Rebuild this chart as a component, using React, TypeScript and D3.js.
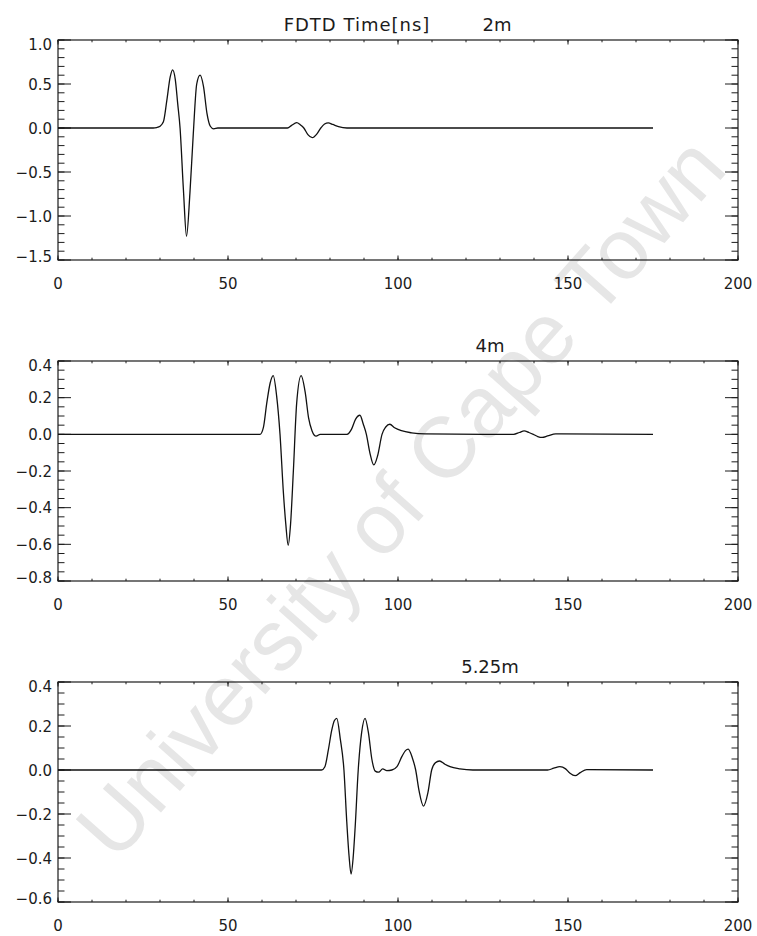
import React from 'react';
import * as d3 from 'd3';

// ---------- data ----------
const xTicks = [0, 50, 100, 150, 200];

const time1 = [0, 28, 29, 30, 31, 32, 33, 33.7, 34.5, 35.2, 35.9, 36.9, 37.8, 38.8, 39.8, 40.8, 41.8, 42.8, 43.8, 44.8, 45.8, 47,
  67.5, 68.7, 70.2, 71.3, 72.3, 73.5, 74.8, 76.1, 77.3, 78.4, 79.5, 80.8, 82.5, 85, 175];
const amp1 = [0, 0, 0.005, 0.02, 0.07, 0.31, 0.58, 0.66, 0.55, 0.28, 0, -0.71, -1.23, -0.74, -0.06, 0.5, 0.6, 0.47, 0.17, 0.02, -0.01, 0,
  0, 0.03, 0.06, 0.035, 0, -0.075, -0.11, -0.07, 0, 0.045, 0.058, 0.04, 0.015, 0, 0];

const time2 = [0, 59.4, 60.4, 61.4, 62.4, 63.3, 64.3, 65.3, 66.3, 67.0, 67.7, 68.4, 69.2, 70.2, 71.5, 72.7, 73.7, 74.7, 75.9, 77.1,
  85, 86.3, 87.5, 88.8, 89.8, 90.7, 91.7, 92.9, 94.0, 95.3, 96.4, 97.6, 99, 101, 104, 108,
  134, 135.7, 137.1, 138.5, 139.8, 141.1, 142.4, 144, 146.4, 148, 175];
const amp2 = [0, 0, 0.037, 0.17, 0.28, 0.32, 0.21, 0, -0.32, -0.49, -0.605, -0.49, -0.21, 0.17, 0.32, 0.23, 0.09, 0.02, -0.01, 0,
  0, 0.027, 0.082, 0.104, 0.055, 0, -0.098, -0.167, -0.117, 0, 0.04, 0.055, 0.036, 0.02, 0.008, 0.002,
  0, 0.01, 0.019, 0.01, 0, -0.012, -0.017, -0.009, 0.003, 0.002, 0];

const time3 = [0, 77.5, 78.5, 79.5, 80.5, 81.3, 82.0, 83.0, 84.1, 84.9, 85.6, 86.2, 86.8, 87.4, 88.3, 89.3, 90.3, 91.3, 92.3, 93.3,
  94.3, 95.5, 96.7, 98.2, 99.7, 101.2, 102.2, 103.0, 104.2, 105.2, 106.2, 107.5, 108.8, 109.9, 111.0, 112.2, 113.8, 115.3, 118.2, 122,
  144, 145.8, 147.6, 149.3, 150.6, 152.1, 153.6, 155.5, 175];
const amp3 = [0, 0, 0.015, 0.09, 0.18, 0.225, 0.235, 0.144, 0, -0.227, -0.39, -0.473, -0.4, -0.26, 0, 0.17, 0.235, 0.17, 0.05, -0.005,
  -0.01, 0.005, -0.003, 0, 0.015, 0.063, 0.088, 0.095, 0.056, 0, -0.095, -0.164, -0.103, 0, 0.033, 0.041, 0.026, 0.015, 0.005, 0,
  0, 0.008, 0.015, 0.005, -0.015, -0.026, -0.012, 0.002, 0];

const yTicks1 = [-1.5, -1.0, -0.5, 0, 0.5, 1.0];
const yTicks2 = [-0.8, -0.6, -0.4, -0.2, 0, 0.2, 0.4];
const yTicks3 = [-0.6, -0.4, -0.2, 0, 0.2, 0.4];
const yMinor1 = 0.1;
const yMinor2 = 0.05;
const yMinor3 = 0.05;
const xMinorStep = 10;

const mainTitle = 'FDTD Time[ns]';
const labels = ['2m', '4m', '5.25m'];
const watermark = 'University of Cape Town';

// ---------- layout ----------
const W = 757;
const H = 936;
const L = 58;
const R = 738;
const PH = 220;
const tops = [40, 361, 682];
const FONT = '"DejaVu Sans", "Liberation Sans", sans-serif';
const INK = '#1c1c1c';

type PanelProps = {
  top: number;
  times: number[];
  amps: number[];
  yTicks: number[];
  yMinor: number;
  label: string;
  labelX: number;
  showMain?: boolean;
};

function Panel({ top, times, amps, yTicks, yMinor, label, labelX, showMain }: PanelProps) {
  const x = d3.scaleLinear().domain([xTicks[0], xTicks[xTicks.length - 1]]).range([L, R]);
  const y0 = yTicks[0];
  const y1 = yTicks[yTicks.length - 1];
  const y = d3.scaleLinear().domain([y0, y1]).range([top + PH, top]);
  const bottom = top + PH;
  const line = d3
    .line<number>()
    .x((_, i) => x(times[i]))
    .y((d) => y(d))
    .curve(d3.curveMonotoneX);
  const fmt = d3.format('.1f');

  const xMinor = d3.range(xTicks[0], xTicks[xTicks.length - 1] + 0.001, xMinorStep);
  const nMinorY = Math.round((y1 - y0) / yMinor);
  const yMin = d3.range(0, nMinorY + 1).map((k) => y0 + k * yMinor);

  const yMajLen = 13;
  const yMinLen = 6.5;
  const xMajLen = 4.5;
  const xMinLen = 2.3;

  return (
    <g>
      {xMinor.map((v, i) => (
        <g key={'xm' + i} stroke={INK} strokeWidth={1}>
          <line x1={x(v)} x2={x(v)} y1={bottom} y2={bottom - xMinLen} />
          <line x1={x(v)} x2={x(v)} y1={top} y2={top + xMinLen} />
        </g>
      ))}
      {yMin.map((v, i) => (
        <g key={'ym' + i} stroke={INK} strokeWidth={1}>
          <line x1={L} x2={L + yMinLen} y1={y(v)} y2={y(v)} />
          <line x1={R} x2={R - yMinLen} y1={y(v)} y2={y(v)} />
        </g>
      ))}
      {xTicks.map((v, i) => (
        <g key={'xM' + i} stroke={INK} strokeWidth={1}>
          <line x1={x(v)} x2={x(v)} y1={bottom} y2={bottom - xMajLen} />
          <line x1={x(v)} x2={x(v)} y1={top} y2={top + xMajLen} />
        </g>
      ))}
      {yTicks.map((v, i) => (
        <g key={'yM' + i} stroke={INK} strokeWidth={1}>
          <line x1={L} x2={L + yMajLen} y1={y(v)} y2={y(v)} />
          <line x1={R} x2={R - yMajLen} y1={y(v)} y2={y(v)} />
        </g>
      ))}
      <rect x={L} y={top} width={R - L} height={PH} fill="none" stroke={INK} strokeWidth={1.2} />
      <path d={line(amps) || ''} fill="none" stroke="#111" strokeWidth={1.3} strokeLinejoin="round" />
      {xTicks.map((v, i) => (
        <text key={'xl' + i} x={x(v)} y={bottom + 29} textAnchor="middle" fontSize={15} fontFamily={FONT} fill={INK}>
          {String(v)}
        </text>
      ))}
      {yTicks.map((v, i) => {
        let ty = y(v) + 5.5;
        if (i === yTicks.length - 1) ty += 4;
        if (i === 0) ty -= 4;
        return (
          <text key={'yl' + i} x={L - 6} y={ty} textAnchor="end" fontSize={15} fontFamily={FONT} fill={INK}>
            {fmt(v)}
          </text>
        );
      })}
      {showMain && (
        <text x={357} y={top - 9} textAnchor="middle" fontSize={18} fontFamily={FONT} fill={INK} letterSpacing={1}>
          {mainTitle}
        </text>
      )}
      <text x={labelX} y={top - 9} textAnchor="middle" fontSize={18} fontFamily={FONT} fill={INK}>
        {label}
      </text>
    </g>
  );
}

export default function App() {
  return (
    <svg
      width={W}
      height={H}
      viewBox={`0 0 ${W} ${H}`}
      style={{ position: 'absolute', left: 0, top: 0, background: '#fff' }}
    >
      <rect x={0} y={0} width={W} height={H} fill="#fff" />
      <text
        x={0}
        y={0}
        transform="translate(400,497) rotate(-48.5)"
        textAnchor="middle"
        dominantBaseline="central"
        fontSize={86}
        fontFamily='"Liberation Sans", Arial, sans-serif'
        fill="#e6e6e6"
      >
        {watermark}
      </text>
      <Panel top={tops[0]} times={time1} amps={amp1} yTicks={yTicks1} yMinor={yMinor1} label={labels[0]} labelX={497} showMain />
      <Panel top={tops[1]} times={time2} amps={amp2} yTicks={yTicks2} yMinor={yMinor2} label={labels[1]} labelX={490} />
      <Panel top={tops[2]} times={time3} amps={amp3} yTicks={yTicks3} yMinor={yMinor3} label={labels[2]} labelX={490} />
    </svg>
  );
}
